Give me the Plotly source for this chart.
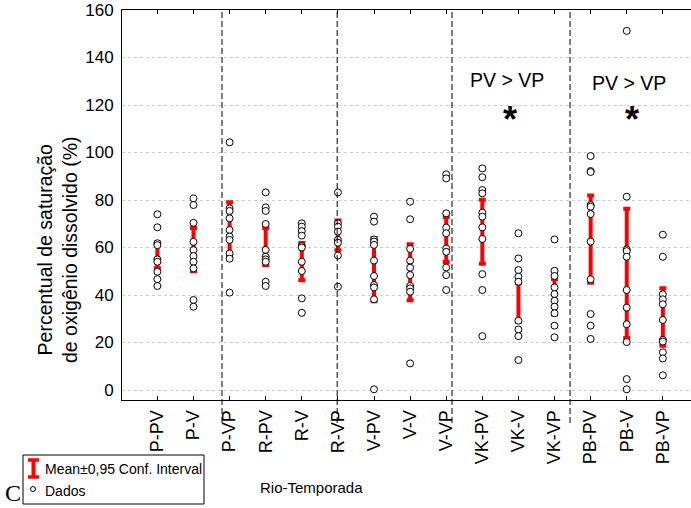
import plotly.graph_objects as go

categories = ["P-PV", "P-V", "P-VP", "R-PV", "R-V", "R-VP", "V-PV", "V-V", "V-VP",
              "VK-PV", "VK-V", "VK-VP", "PB-PV", "PB-V", "PB-VP"]

P_PV = [74.0, 68.5, 61.8, 61.0, 55.0, 54.0, 49.8, 46.7, 43.8]
P_V = [80.7, 77.9, 70.4, 62.4, 58.9, 56.4, 54.0, 51.2, 37.9, 35.1]
P_VP = [104.3, 76.5, 75.4, 72.3, 67.4, 64.6, 63.2, 57.5, 55.3, 41.0]
R_PV = [83.2, 76.9, 75.4, 69.9, 59.0, 56.1, 55.0, 54.0, 45.6, 43.8]
R_V = [70.2, 68.8, 66.9, 65.0, 60.6, 60.0, 54.0, 50.1, 38.6, 32.5]
R_VP = [83.2, 70.2, 68.8, 66.7, 63.2, 62.0, 56.6, 43.5]
V_PV = [73.0, 70.9, 63.4, 62.5, 61.1, 54.5, 48.0, 44.2, 43.2, 38.2, 0.3]
V_V = [79.3, 71.9, 59.4, 54.5, 51.5, 48.4, 43.8, 42.8, 41.4, 11.2]
V_VP = [90.8, 89.1, 74.4, 68.4, 66.0, 59.6, 58.2, 51.6, 48.4, 42.1]
VK_PV = [93.3, 89.6, 84.2, 82.8, 74.7, 73.0, 68.5, 63.6, 48.8, 42.1, 22.7]
VK_V = [66.0, 55.4, 50.5, 47.7, 45.6, 29.2, 25.5, 22.7, 12.6]
VK_VP = [63.4, 50.2, 48.0, 43.2, 40.4, 37.6, 35.1, 32.3, 27.1, 22.2]
PB_PV = [98.5, 92.2, 91.8, 77.9, 77.2, 74.1, 62.5, 46.6, 32.0, 27.1, 21.5]
PB_V = [151.2, 81.4, 59.2, 58.5, 56.1, 42.1, 34.7, 27.7, 20.2, 4.6, 0.3]
PB_VP = [65.4, 56.1, 40.3, 38.2, 36.1, 29.5, 21.1, 20.4, 15.9, 13.3, 6.2]

data_series = [P_PV, P_V, P_VP, R_PV, R_V, R_VP, V_PV, V_V, V_VP,
               VK_PV, VK_V, VK_VP, PB_PV, PB_V, PB_VP]

ci_low = [51.3, 50.0, 56.7, 52.5, 46.2, 58.8, 37.4, 37.8, 53.9, 53.2, 28.7, 31.8, 45.2, 21.9, 18.6]
ci_high = [62.1, 68.2, 79.1, 68.2, 61.9, 71.4, 64.0, 61.4, 72.9, 80.1, 45.0, 46.7, 81.9, 76.3, 42.9]

separators = [1.79, 4.98, 8.16, 11.43]

y_ticks = [0, 20, 40, 60, 80, 100, 120, 140, 160]

XMIN, XMAX = -0.98, 14.78
YMIN, YMAX = -4.2, 160

fig = go.Figure()

# confidence intervals
means = [(lo + hi) / 2 for lo, hi in zip(ci_low, ci_high)]
half = [(hi - lo) / 2 for lo, hi in zip(ci_low, ci_high)]
fig.add_trace(go.Scatter(
    x=list(range(len(categories))), y=means, mode="markers",
    marker=dict(size=1, color="rgba(0,0,0,0)"),
    error_y=dict(type="data", array=half, symmetric=True, color="#ff0000",
                 thickness=4, width=3.5),
    showlegend=False, hoverinfo="skip"))

# data points
xs, ys = [], []
for i, s in enumerate(data_series):
    xs += [i] * len(s)
    ys += s
fig.add_trace(go.Scatter(
    x=xs, y=ys, mode="markers",
    marker=dict(size=7, color="white", line=dict(color="black", width=1)),
    showlegend=False))

shapes = []
for s in separators:
    xp = (s - XMIN) / (XMAX - XMIN)
    shapes.append(dict(type="line", xref="paper", yref="paper", x0=xp, x1=xp,
                       y0=-0.059, y1=1, line=dict(color="black", width=1, dash="6px,3px")))

# manual legend (paper coords: plot area x 122..691 px, y 10..400 px)
def px(x):
    return (x - 122) / 569.0

def py(y):
    return (400 - y) / 390.0

shapes.append(dict(type="rect", xref="paper", yref="paper", x0=px(23), x1=px(204),
                   y0=py(455), y1=py(504), line=dict(color="black", width=1),
                   fillcolor="white"))
shapes.append(dict(type="line", xref="paper", yref="paper", x0=px(33.5), x1=px(33.5),
                   y0=py(460), y1=py(477), line=dict(color="#ff0000", width=4)))
for yy in (460, 477):
    shapes.append(dict(type="line", xref="paper", yref="paper", x0=px(28), x1=px(39),
                       y0=py(yy), y1=py(yy), line=dict(color="#ff0000", width=3.5)))
shapes.append(dict(type="circle", xref="paper", yref="paper", x0=px(30.5), x1=px(35.5),
                   y0=py(486.5), y1=py(491.5), line=dict(color="black", width=1)))

annotations = [
    dict(text="Mean±0,95 Conf. Interval", xref="paper", yref="paper", x=px(43), y=py(469),
         xanchor="left", yanchor="middle", showarrow=False,
         font=dict(family="Arial", size=14, color="black")),
    dict(text="Dados", xref="paper", yref="paper", x=px(43), y=py(491),
         xanchor="left", yanchor="middle", showarrow=False,
         font=dict(family="Arial", size=14, color="black")),
    dict(text="C", xref="paper", yref="paper", x=px(3), y=py(493),
         xanchor="left", yanchor="middle", showarrow=False,
         font=dict(family="Times New Roman", size=24, color="black")),
    dict(text="Rio-Temporada", xref="paper", yref="paper", x=px(311), y=py(487),
         xanchor="center", yanchor="middle", showarrow=False,
         font=dict(family="Arial", size=15, color="black")),
    dict(text="Percentual de saturação<br>de oxigênio dissolvido (%)", xref="paper",
         yref="paper", x=px(57), y=py(250), xanchor="center", yanchor="middle",
         textangle=-90, showarrow=False,
         font=dict(family="Arial", size=19.5, color="black")),
    dict(text="PV > VP", x=9.69, y=130.5, xanchor="center", yanchor="middle",
         showarrow=False, font=dict(family="Arial", size=19.5, color="black")),
    dict(text="PV > VP", x=13.05, y=129.3, xanchor="center", yanchor="middle",
         showarrow=False, font=dict(family="Arial", size=19.5, color="black")),
    dict(text="<b>*</b>", x=9.77, y=113.7, xanchor="center", yanchor="middle",
         showarrow=False, font=dict(family="Arial", size=36, color="black")),
    dict(text="<b>*</b>", x=13.15, y=113.7, xanchor="center", yanchor="middle",
         showarrow=False, font=dict(family="Arial", size=36, color="black")),
]

fig.update_layout(
    width=691, height=508,
    margin=dict(l=122, r=0, t=10, b=108),
    paper_bgcolor="white", plot_bgcolor="white",
    shapes=shapes, annotations=annotations,
    showlegend=False,
    xaxis=dict(range=[XMIN, XMAX], tickmode="array",
               tickvals=list(range(len(categories))), ticktext=categories,
               tickangle=-90, ticks="inside", ticklen=4, tickcolor="black",
               showline=True, linecolor="black", linewidth=1, mirror="ticks",
               showgrid=False, zeroline=False, ticklabelstandoff=2,
               tickfont=dict(family="Arial", size=18, color="black")),
    yaxis=dict(range=[YMIN, YMAX], tickmode="array", tickvals=y_ticks,
               showline=True, linecolor="black", linewidth=1, mirror=False,
               ticks="", showgrid=True, gridcolor="#cccccc", griddash="dot",
               gridwidth=1, zeroline=False, ticklabelstandoff=4,
               tickfont=dict(family="Arial", size=17, color="black")),
)

fig.write_html("out.html", config={"displayModeBar": False},
               post_script="document.body.style.margin='0';document.body.style.overflow='hidden';")
